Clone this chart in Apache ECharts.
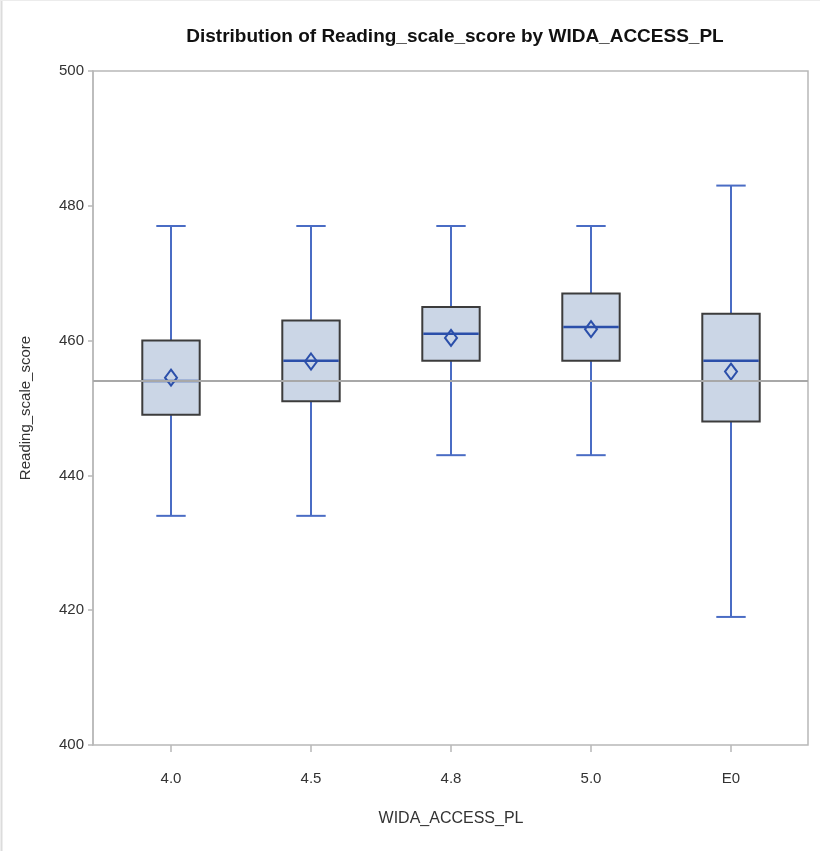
<!DOCTYPE html>
<html><head><meta charset="utf-8">
<script src="https://cdn.jsdelivr.net/npm/echarts@6/dist/echarts.min.js"></script>
<style>html,body{margin:0;padding:0;background:#fff}#c{width:820px;height:851px}</style>
</head><body><div id="c"></div>
<script>
const categories = ['4.0', '4.5', '4.8', '5.0', 'E0'];
const whiskerLow = [434, 434, 443, 443, 419];
const q1 = [449, 451, 457, 457, 448];
const medians = [454, 457, 461, 462, 457];
const q3 = [460, 463, 465, 467, 464];
const whiskerHigh = [477, 477, 477, 477, 483];
const means = [454.5, 456.9, 460.4, 461.7, 455.4];
const refLine = 454;
const yTicks = [400, 420, 440, 460, 480, 500];

const boxData = categories.map((c, i) => [i, whiskerLow[i], q1[i], medians[i], q3[i], whiskerHigh[i], means[i]]);

const chart = echarts.init(document.getElementById('c'), null, {renderer: 'canvas'});
const narrow = '"Liberation Sans Narrow", "Liberation Sans", Arial, sans-serif';
const blue = '#4a6cc4';
const darkBlue = '#2b4faa';

function renderItem(params, api) {
  const x = api.value(0);
  const pLow = api.coord([x, api.value(1)]);
  const pQ1 = api.coord([x, api.value(2)]);
  const pMed = api.coord([x, api.value(3)]);
  const pQ3 = api.coord([x, api.value(4)]);
  const pHigh = api.coord([x, api.value(5)]);
  const pMean = api.coord([x, api.value(6)]);
  const band = api.size([1, 0])[0];
  const bw = band * 0.41;
  const cw = band * 0.21;
  const cx = pLow[0];
  const lineStyle = {stroke: blue, lineWidth: 2};
  return {
    type: 'group',
    children: [
      {type: 'line', shape: {x1: cx, y1: pHigh[1], x2: cx, y2: pQ3[1]}, style: lineStyle},
      {type: 'line', shape: {x1: cx, y1: pQ1[1], x2: cx, y2: pLow[1]}, style: lineStyle},
      {type: 'line', shape: {x1: cx - cw / 2, y1: pHigh[1], x2: cx + cw / 2, y2: pHigh[1]}, style: lineStyle},
      {type: 'line', shape: {x1: cx - cw / 2, y1: pLow[1], x2: cx + cw / 2, y2: pLow[1]}, style: lineStyle},
      {type: 'rect', shape: {x: cx - bw / 2, y: pQ3[1], width: bw, height: pQ1[1] - pQ3[1]},
        style: {fill: '#cbd6e6', stroke: '#3c3c3c', lineWidth: 2}},
      {type: 'line', shape: {x1: cx - bw / 2 + 1, y1: pMed[1], x2: cx + bw / 2 - 1, y2: pMed[1]},
        style: {stroke: darkBlue, lineWidth: 2.5}},
      {type: 'polygon', shape: {points: [[cx, pMean[1] - 8], [cx + 6, pMean[1]], [cx, pMean[1] + 8], [cx - 6, pMean[1]]]},
        style: {fill: 'none', stroke: darkBlue, lineWidth: 2}}
    ]
  };
}

chart.setOption({
  animation: false,
  backgroundColor: '#fff',
  graphic: [
    {type: 'line', shape: {x1: 1.5, y1: 0, x2: 1.5, y2: 851}, style: {stroke: '#dcdcdc', lineWidth: 2}},
    {type: 'line', shape: {x1: 0, y1: 0.5, x2: 820, y2: 0.5}, style: {stroke: '#ececec', lineWidth: 1}}
  ],
  title: {
    text: 'Distribution of Reading_scale_score by WIDA_ACCESS_PL',
    left: 450, top: 22, textAlign: 'center',
    textStyle: {fontFamily: narrow, fontSize: 19, fontWeight: 'bold', color: '#111'}
  },
  grid: [
    {left: 93, top: 71, width: 715, height: 674, show: true, borderColor: '#b8b8b8', borderWidth: 1.5, backgroundColor: 'transparent'},
    {left: 101, top: 71, width: 700, height: 674}
  ],
  xAxis: [
    {gridIndex: 0, type: 'value', min: 0, max: 1, show: false},
    {gridIndex: 1, type: 'category', data: categories, boundaryGap: true,
      axisLine: {show: false},
      axisTick: {show: true, alignWithLabel: true, length: 7, lineStyle: {color: '#b8b8b8', width: 1.5}},
      axisLabel: {margin: 26, fontFamily: narrow, fontSize: 15, color: '#333'},
      name: 'WIDA_ACCESS_PL', nameLocation: 'middle', nameGap: 66,
      nameTextStyle: {fontFamily: narrow, fontSize: 16, color: '#333'}}
  ],
  yAxis: [
    {gridIndex: 0, type: 'value', min: yTicks[0], max: yTicks[yTicks.length - 1], interval: 20,
      axisLine: {show: true, lineStyle: {color: '#b8b8b8', width: 1.5}},
      axisTick: {show: true, length: 5, lineStyle: {color: '#b8b8b8', width: 1.5}},
      splitLine: {show: false},
      axisLabel: {margin: 9, fontFamily: narrow, fontSize: 15, color: '#333'},
      name: 'Reading_scale_score', nameLocation: 'middle', nameGap: 60,
      nameTextStyle: {fontFamily: '"Liberation Sans", Arial, sans-serif', fontSize: 15, color: '#333'}},
    {gridIndex: 1, type: 'value', min: yTicks[0], max: yTicks[yTicks.length - 1], interval: 20, show: false}
  ],
  series: [
    {type: 'custom', xAxisIndex: 1, yAxisIndex: 1, renderItem: renderItem, data: boxData, z: 2},
    {type: 'line', xAxisIndex: 0, yAxisIndex: 0, data: [], z: 5,
      markLine: {silent: true, symbol: 'none', label: {show: false},
        lineStyle: {color: '#a8a8a8', width: 2, type: 'solid'},
        data: [{yAxis: refLine}]}}
  ]
});
</script>
</body></html>
